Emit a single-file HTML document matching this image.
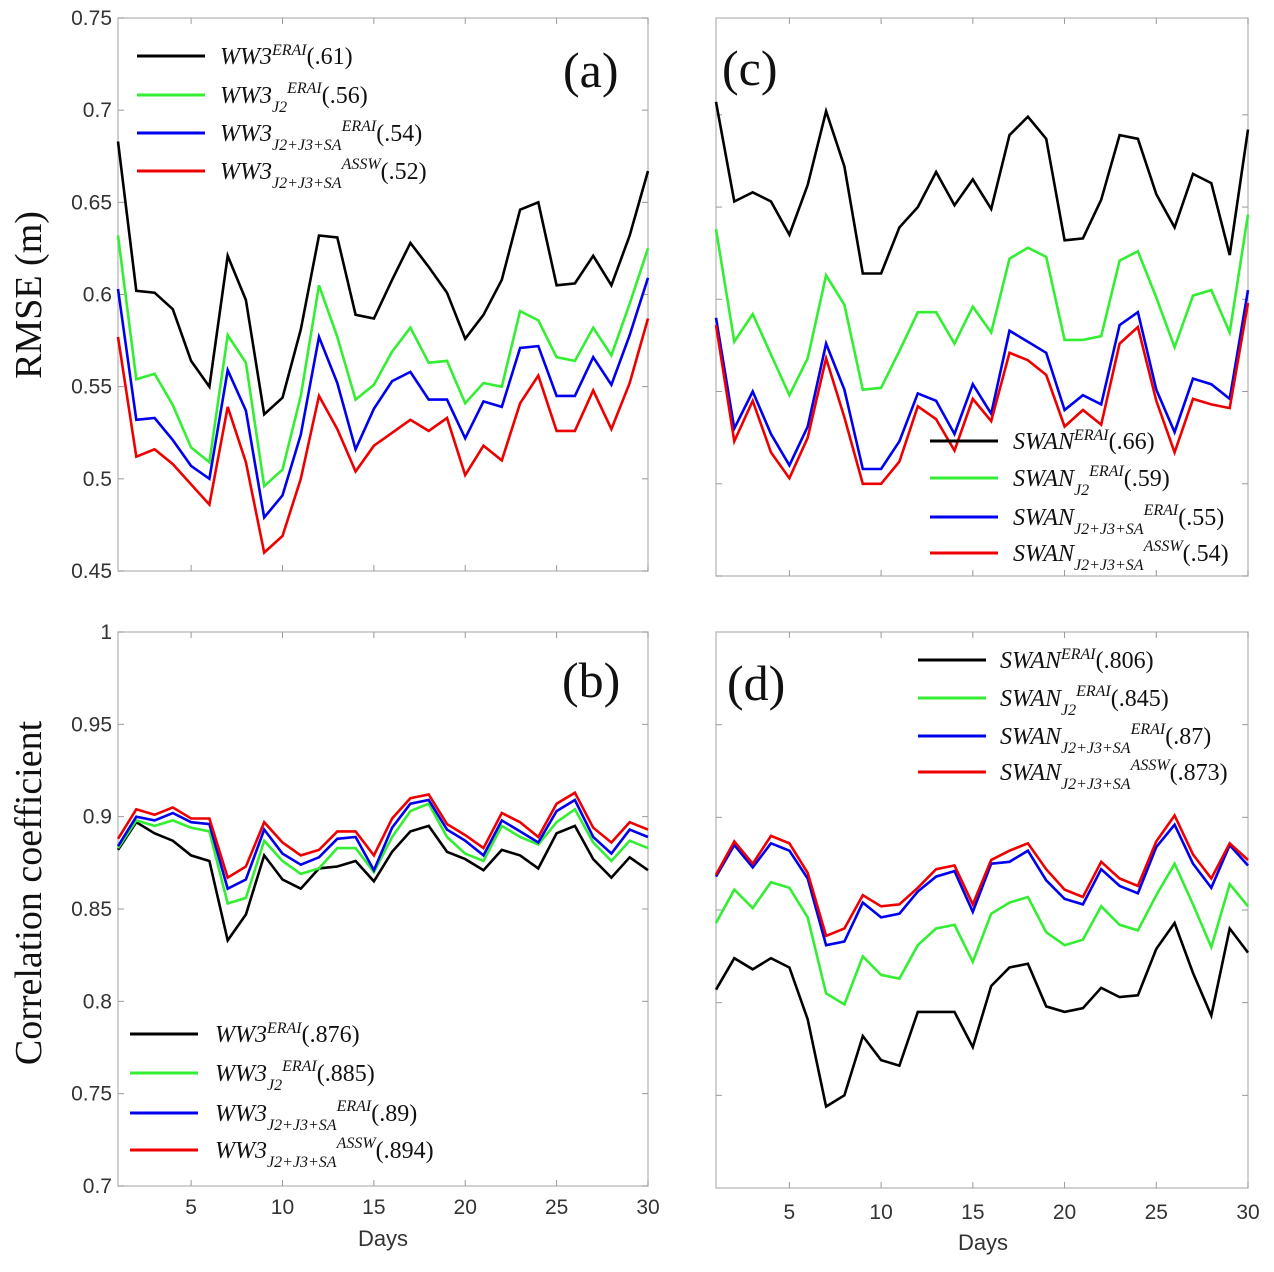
<!DOCTYPE html>
<html><head><meta charset="utf-8"><style>
body{margin:0;background:#fff;}
svg{display:block;}
.tk{font-family:"Liberation Sans",sans-serif;font-size:21px;fill:#333;}
.lg{font-family:"Liberation Serif",serif;font-size:24px;font-style:italic;fill:#111;}
.lg .p{font-style:normal;}
.pl{font-family:"Liberation Serif",serif;font-size:50px;fill:#111;}
.yt{font-family:"Liberation Serif",serif;font-size:38px;fill:#111;}
.xt{font-family:"Liberation Sans",sans-serif;font-size:22px;fill:#333;}
</style></head><body>
<svg id="fig" width="1274" height="1272" xmlns="http://www.w3.org/2000/svg"></svg>
<script>
const days=[1,2,3,4,5,6,7,8,9,10,11,12,13,14,15,16,17,18,19,20,21,22,23,24,25,26,27,28,29,30];
const colors=['#000000','#33ee33','#0000ee','#ee0000'];
const aBlack=[0.683,0.602,0.601,0.592,0.564,0.550,0.621,0.597,0.535,0.544,0.581,0.632,0.631,0.589,0.587,0.608,0.628,0.615,0.601,0.576,0.589,0.608,0.646,0.650,0.605,0.606,0.621,0.605,0.632,0.667];
const aGreen=[0.632,0.554,0.557,0.540,0.517,0.509,0.578,0.563,0.496,0.505,0.545,0.605,0.577,0.543,0.551,0.569,0.582,0.563,0.564,0.541,0.552,0.550,0.591,0.586,0.566,0.564,0.582,0.567,0.595,0.625];
const aBlue=[0.603,0.532,0.533,0.521,0.507,0.500,0.559,0.537,0.479,0.491,0.524,0.577,0.552,0.516,0.538,0.553,0.558,0.543,0.543,0.522,0.542,0.539,0.571,0.572,0.545,0.545,0.566,0.551,0.578,0.609];
const aRed=[0.577,0.512,0.516,0.508,0.497,0.486,0.539,0.509,0.460,0.469,0.500,0.545,0.527,0.504,0.518,0.525,0.532,0.526,0.533,0.502,0.518,0.510,0.541,0.556,0.526,0.526,0.548,0.527,0.552,0.587];
const cBlack=[0.707,0.653,0.658,0.653,0.635,0.662,0.702,0.672,0.614,0.614,0.639,0.650,0.669,0.651,0.665,0.649,0.689,0.699,0.687,0.632,0.633,0.654,0.689,0.687,0.657,0.639,0.668,0.663,0.624,0.692];
const cGreen=[0.638,0.577,0.592,0.570,0.548,0.568,0.613,0.597,0.551,0.552,0.572,0.593,0.593,0.576,0.596,0.582,0.622,0.628,0.623,0.578,0.578,0.580,0.621,0.626,0.601,0.574,0.602,0.605,0.582,0.646];
const cBlue=[0.590,0.530,0.550,0.527,0.510,0.531,0.576,0.551,0.508,0.508,0.523,0.549,0.545,0.527,0.554,0.538,0.583,0.577,0.571,0.540,0.548,0.543,0.586,0.593,0.551,0.528,0.557,0.554,0.546,0.605];
const cRed=[0.586,0.523,0.545,0.517,0.503,0.525,0.568,0.536,0.500,0.500,0.512,0.542,0.535,0.518,0.546,0.534,0.571,0.567,0.559,0.531,0.540,0.532,0.576,0.585,0.545,0.517,0.546,0.543,0.541,0.598];
const bBlack=[0.882,0.897,0.891,0.887,0.879,0.876,0.833,0.847,0.879,0.866,0.861,0.872,0.873,0.876,0.865,0.881,0.892,0.895,0.881,0.877,0.871,0.882,0.879,0.872,0.891,0.895,0.877,0.867,0.878,0.871];
const bGreen=[0.883,0.898,0.895,0.898,0.894,0.892,0.853,0.856,0.887,0.876,0.869,0.872,0.883,0.883,0.870,0.889,0.903,0.907,0.889,0.880,0.876,0.895,0.889,0.885,0.897,0.904,0.886,0.876,0.887,0.883];
const bBlue=[0.884,0.900,0.898,0.902,0.897,0.896,0.861,0.866,0.893,0.880,0.874,0.878,0.888,0.889,0.871,0.894,0.907,0.909,0.893,0.887,0.879,0.898,0.892,0.886,0.903,0.909,0.889,0.880,0.893,0.889];
const bRed=[0.888,0.904,0.901,0.905,0.899,0.899,0.867,0.873,0.897,0.886,0.879,0.882,0.892,0.892,0.879,0.899,0.910,0.912,0.896,0.890,0.883,0.902,0.897,0.889,0.907,0.913,0.894,0.886,0.897,0.893];
const dBlack=[0.807,0.824,0.818,0.824,0.819,0.791,0.744,0.750,0.782,0.769,0.766,0.795,0.795,0.795,0.776,0.809,0.819,0.821,0.798,0.795,0.797,0.808,0.803,0.804,0.829,0.843,0.816,0.793,0.840,0.827];
const dGreen=[0.843,0.861,0.851,0.865,0.862,0.846,0.805,0.799,0.825,0.815,0.813,0.831,0.840,0.842,0.822,0.848,0.854,0.857,0.838,0.831,0.834,0.852,0.842,0.839,0.858,0.875,0.853,0.830,0.864,0.852];
const dBlue=[0.868,0.885,0.873,0.886,0.882,0.867,0.831,0.833,0.854,0.846,0.848,0.860,0.868,0.871,0.849,0.875,0.876,0.882,0.866,0.856,0.853,0.872,0.863,0.859,0.884,0.896,0.875,0.862,0.885,0.874];
const dRed=[0.869,0.887,0.875,0.890,0.886,0.870,0.836,0.840,0.858,0.852,0.853,0.862,0.872,0.874,0.853,0.877,0.882,0.886,0.872,0.861,0.857,0.876,0.867,0.863,0.887,0.901,0.880,0.867,0.886,0.877];
const xTicks=[5,10,15,20,25,30];
const rmseTicks=[0.45,0.5,0.55,0.6,0.65,0.7,0.75];
const rmseLabels=['0.45','0.5','0.55','0.6','0.65','0.7','0.75'];
const ccTicks=[0.7,0.75,0.8,0.85,0.9,0.95,1];
const ccLabels=['0.7','0.75','0.8','0.85','0.9','0.95','1'];

const NS='http://www.w3.org/2000/svg';
const svg=document.getElementById('fig');
function mk(tag,attrs,parent){const e=document.createElementNS(NS,tag);for(const k in attrs)e.setAttribute(k,attrs[k]);(parent||svg).appendChild(e);return e;}

function panel(id,box,ymin,ymax,series,showY,yLabels,yTicks,showX,xLabY,legend,lab){
  const g=mk('g',{});
  
  
  const [x0,x1,y0,y1]=box;
  const sx=d=>x0+(d-1)/29*(x1-x0);
  const sy=v=>y1-(v-ymin)/(ymax-ymin)*(y1-y0);
  const fr=mk('rect',{x:x0,y:y0,width:x1-x0,height:y1-y0,fill:'none',stroke:'#b8b8b8','stroke-width':1.3},g);
  
  
  yTicks.forEach((t,i)=>{
    const y=sy(t);
    mk('line',{x1:x0,x2:x0+6,y1:y,y2:y,stroke:'#999'},g);
    mk('line',{x1:x1,x2:x1-6,y1:y,y2:y,stroke:'#999'},g);
    if(showY){const tx=mk('text',{x:x0-6,y:y+7,'text-anchor':'end',class:'tk'},g);tx.textContent=yLabels[i];
      
      }
  });
  xTicks.forEach(t=>{
    const x=sx(t);
    mk('line',{x1:x,x2:x,y1:y1,y2:y1-6,stroke:'#999'},g);
    mk('line',{x1:x,x2:x,y1:y0,y2:y0+6,stroke:'#999'},g);
    if(showX){const tx=mk('text',{x:x,y:xLabY,'text-anchor':'middle',class:'tk'},g);tx.textContent=t;
      
      }
  });
  series.forEach((s,i)=>{
    const p=mk('polyline',{points:s.map((v,j)=>sx(days[j]).toFixed(1)+','+sy(v).toFixed(1)).join(' '),fill:'none',stroke:colors[i],'stroke-width':2.6,'stroke-linejoin':'miter'},g);
    
    
  });
  const [lx,lt,rows,model,vals]=legend;
  const subs=['','J2','J2+J3+SA','J2+J3+SA'];
  const sups=['ERAI','ERAI','ERAI','ASSW'];
  rows.forEach((ry,i)=>{
    mk('line',{x1:lx,x2:lx+68,y1:ry,y2:ry,stroke:colors[i],'stroke-width':3},g);
    const t=mk('text',{x:lt,y:ry+8,class:'lg'},g);
    
    
    let h='<tspan>'+model+'</tspan>';
    if(subs[i]) h+='<tspan font-size="16" dy="9">'+subs[i]+'</tspan><tspan font-size="16" dy="-19">'+sups[i]+'</tspan><tspan dy="10" class="p">('+vals[i]+')</tspan>';
    else h+='<tspan font-size="16" dy="-9">'+sups[i]+'</tspan><tspan dy="9" class="p">('+vals[i]+')</tspan>';
    t.innerHTML=h;
  });
  const pl=mk('text',{x:lab[0],y:lab[1],class:'pl'},g);pl.textContent=lab[2];
  
  
}
panel('a',[118,648,18,571],0.45,0.75,[aBlack,aGreen,aBlue,aRed],true,rmseLabels,rmseTicks,false,0,
  [137,220,[56,95,133,171],'WW3',['.61','.56','.54','.52']],[563,87,'(a)']);
panel('c',[716,1248,18,576],0.45,0.7525,[cBlack,cGreen,cBlue,cRed],false,rmseLabels,rmseTicks.slice(0,6),false,0,
  [930,1013,[441,478,517,553],'SWAN',['.66','.59','.55','.54']],[722,85,'(c)']);
panel('b',[118,648,632,1186],0.7,1.0,[bBlack,bGreen,bBlue,bRed],true,ccLabels,ccTicks,true,1214,
  [130,215,[1034,1073,1113,1150],'WW3',['.876','.885','.89','.894']],[562,697,'(b)']);
panel('d',[716,1248,632,1188],0.7,1.0,[dBlack,dGreen,dBlue,dRed],false,ccLabels,ccTicks.slice(1,6),true,1219,
  [918,1000,[660,698,736,772],'SWAN',['.806','.845','.87','.873']],[727,700,'(d)']);

let t=mk('text',{x:0,y:0,class:'yt','text-anchor':'middle',transform:'translate(41,295) rotate(-90)'});t.textContent='RMSE (m)';


t=mk('text',{x:0,y:0,class:'yt','text-anchor':'middle',transform:'translate(41,893) rotate(-90)'});t.textContent='Correlation  coefficient';


t=mk('text',{x:383,y:1246,class:'xt','text-anchor':'middle'});t.textContent='Days';


t=mk('text',{x:983,y:1250,class:'xt','text-anchor':'middle'});t.textContent='Days';


</script>
</body></html>
